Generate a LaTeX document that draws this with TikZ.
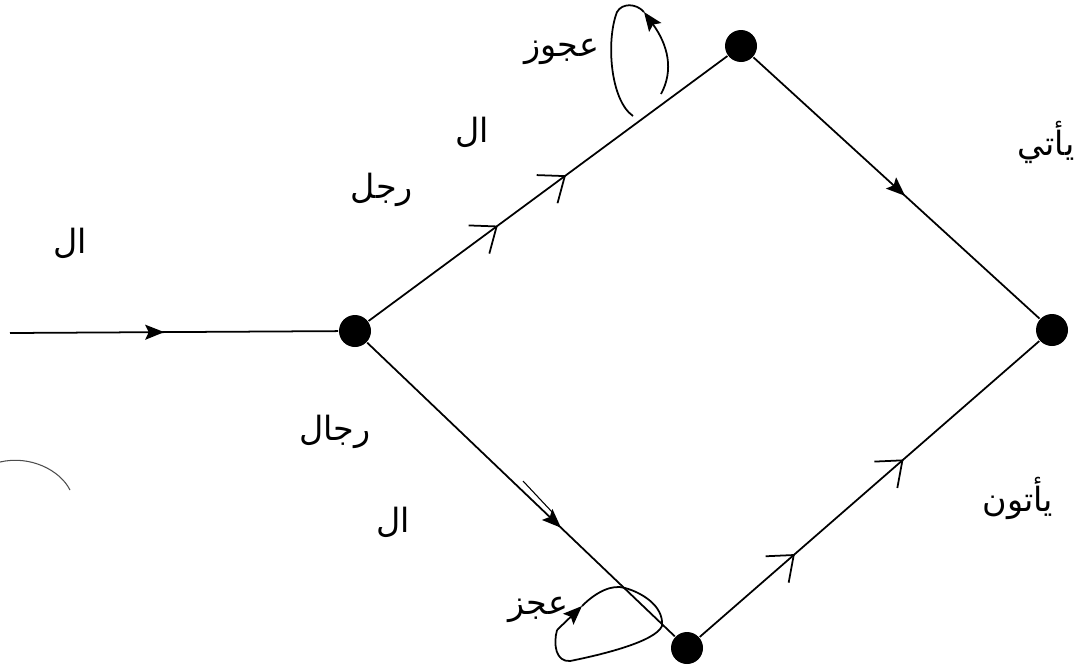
\documentclass[tikz,border=0pt]{standalone}
\usepackage{fontspec}
\newfontfamily\arabicfont[Script=Arabic]{DejaVu Sans}
\TeXXeTstate=1
\usetikzlibrary{arrows.meta,decorations.markings}

\tikzset{
  state/.style={circle,fill=black,inner sep=0pt,minimum size=0.64cm},
  word/.style={font=\arabicfont\fontsize{19}{23}\selectfont,inner sep=1pt},
  fullhead/.style={postaction={decorate},decoration={markings,
    mark=at position #1 with {\arrow{Stealth[length=3.8mm,width=3mm,inset=0.7mm]}}}},
  barbheads/.style 2 args={postaction={decorate},decoration={markings,
    mark=at position #1 with {\arrow{Straight Barb[length=4.4mm,width=7mm]}},
    mark=at position #2 with {\arrow{Straight Barb[length=4.4mm,width=7mm]}}}},
}

\begin{document}
\begin{tikzpicture}[x=0.02cm,y=-0.02cm,line width=1pt]
  \useasboundingbox (0,0) rectangle (1077,667);

  % states of the lattice
  \coordinate (entry) at (10,333);
  \node[state] (fork) at (355,331) {};
  \node[state] (upper) at (741,46) {};
  \node[state] (merge) at (1052,330) {};
  \node[state] (lower) at (687,648) {};

  % arcs
  \draw[fullhead=0.47] (entry) -- (fork);
  \draw[barbheads={0.36}{0.55}] (fork) -- (upper);
  \draw[fullhead=0.53] (upper) -- (merge);
  \draw[fullhead=0.63] (fork) -- (lower);
  \draw[barbheads={0.28}{0.60}] (lower) -- (merge);
  \draw[line width=0.6pt] (523,481) -- (553,513);

  % self loops
  \draw[-{Stealth[length=3.8mm,width=3mm,inset=0.7mm]}] (661,94) .. controls (674,70) and (668,45) .. (644,12);
  \draw (644,12) .. controls (636,3) and (622,3) .. (617,12)
                 .. controls (606,40) and (610,100) .. (633,116);
  \draw[-{Stealth[length=3.8mm,width=3mm,inset=0.7mm]}] (557,630) -- (582,606);
  \draw (582,606) .. controls (596,592) and (612,584) .. (625,588)
                  .. controls (640,592) and (664,605) .. (662,626)
                  .. controls (655,642) and (600,655) .. (570,661)
                  .. controls (556,662) and (553,645) .. (557,630);

  % stray arc at the left margin
  \draw[line width=0.6pt,black!70] (0,462) .. controls (30,455) and (60,470) .. (70,490);

  % words
  \node[word] (artA) at (70,243) {\beginR ال\endR};
  \node[word] (man) at (382,190) {\beginR رجل\endR};
  \node[word] (artB) at (472,132) {\beginR ال\endR};
  \node[word] (oldw) at (562,52) {\beginR عجوز\endR};
  \node[word,anchor=east] (comes) at (1077,142) {\beginR يأتي\endR};
  \node[word] (men) at (335,432) {\beginR رجال\endR};
  \node[word] (artC) at (393,522) {\beginR ال\endR};
  \node[word] (olds) at (538,610) {\beginR عجز\endR};
  \node[word] (come) at (1018,498) {\beginR يأتون\endR};
\end{tikzpicture}
\end{document}
